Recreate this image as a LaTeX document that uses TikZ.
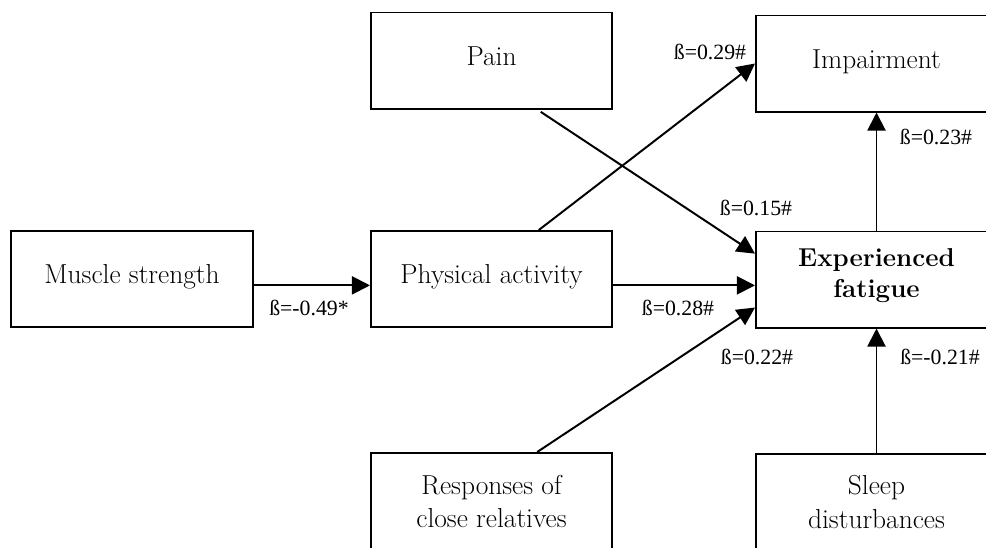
\documentclass[tikz,border=0pt]{standalone}
\usepackage{fontspec}
\usepackage{tikz}
\newfontfamily\betafont{Liberation Serif}
\usetikzlibrary{arrows.meta,calc,positioning}
\tikzset{>={Triangle[length=0.45cm,width=0.45cm]}}

\tikzset{
  factor/.style={draw,line width=1.4pt,minimum width=6.025cm,minimum height=2.4cm,
    align=center,inner sep=0pt,font=\fontsize{19.5}{23.5}\selectfont},
  single/.style={text depth=6.5pt},
  link/.style={line width=1.4pt,->},
  beta/.style={inner sep=0pt,font=\betafont\fontsize{15.5}{18}\selectfont}
}

\begin{document}
\begin{tikzpicture}[x=0.025cm,y=-0.025cm]
                \useasboundingbox (0,0) rectangle (986,547);
                \clip (0,0) rectangle (986,547);
                % boxes
                \node[factor,single] (pain) at (491.5,60.5) {Pain};
                \node[factor,single] (imp) at (876.5,63.5) {Impairment};
                \node[factor,single] (muscle) at (132,279) {Muscle strength};
                \node[factor,single] (phys) at (491.5,279) {Physical activity};
                \node[factor,text depth=9pt,font=\fontsize{18.4}{22}\selectfont\bfseries] (fat) at (876.5,279.5) {Experienced\\fatigue};
                \node[factor] (resp) at (491.5,501) {Responses of\\close relatives};
                \node[factor] (sleep) at (876.5,502) {Sleep\\disturbances};
                % paths
                \draw[link] (muscle.-3) -- (muscle.-3 -| phys.west);
                \draw[link] (phys.-3) -- (phys.-3 -| fat.west);
                \draw[link] (phys.46) -- (imp.west);
                \draw[link,shorten <=3pt] (pain.-47) -- (fat.168);
                \draw[link] (resp.47) -- (fat.193);
                \draw[link] (fat.north) -- (imp.south);
                \draw[link] (sleep.north) -- (fat.south);
                % coefficients
                \node[beta] (b49) at (309,308) {ß=-0.49*};
                \node[beta] (b28) at (678,308) {ß=0.28\#};
                \node[beta] (b29) at (710,52) {ß=0.29\#};
                \node[beta] (b15) at (756,208) {ß=0.15\#};
                \node[beta] (b22) at (757,357) {ß=0.22\#};
                \node[beta] (b23) at (936,137) {ß=0.23\#};
                \node[beta] (b21) at (940,357) {ß=-0.21\#};
\end{tikzpicture}
\end{document}
